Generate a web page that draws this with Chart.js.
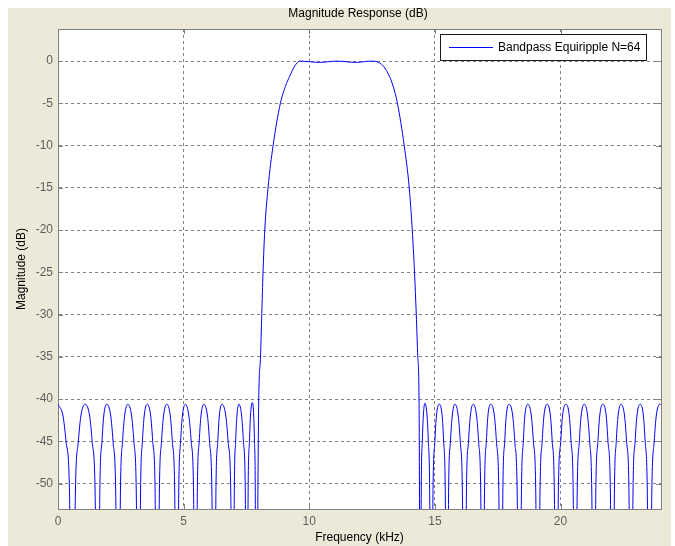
<!DOCTYPE html>
<html>
<head>
<meta charset="utf-8">
<script src="https://cdn.jsdelivr.net/npm/chart.js@4.4.0/dist/chart.umd.min.js"></script>
<style>
  html, body { margin: 0; padding: 0; background: #fff; }
  #wrap { width: 675px; height: 546px; }
</style>
</head>
<body>
<div id="wrap"><canvas id="chart" width="675" height="546"></canvas></div>
<script>
// values (kHz / dB)
var lowStopKHz = [0, 0.20, 0.32, 0.45, 0.58,
    0.70, 0.81, 0.91, 1.08, 1.26, 1.36, 1.47, 1.59,
    1.67, 1.75, 1.82, 1.94, 2.10, 2.19, 2.29, 2.40,
    2.49, 2.57, 2.65, 2.78, 2.93, 3.02, 3.11, 3.21,
    3.29, 3.36, 3.43, 3.55, 3.69, 3.77, 3.86, 3.95,
    4.04, 4.12, 4.20, 4.33, 4.47, 4.55, 4.64, 4.73,
    4.81, 4.88, 4.95, 5.07, 5.21, 5.30, 5.39, 5.48,
    5.55, 5.62, 5.69, 5.80, 5.95, 6.03, 6.12, 6.22,
    6.29, 6.36, 6.42, 6.53, 6.68, 6.77, 6.87, 6.97,
    7.02, 7.07, 7.12, 7.20, 7.31, 7.38, 7.45, 7.52,
    7.57, 7.62, 7.66, 7.74, 7.79, 7.82, 7.85, 7.88];
var lowStopDb = [-40.6, -42, -45, -50, -75,
    -50, -45, -42, -40.6, -42, -45, -50, -75,
    -50, -45, -42, -40.6, -42, -45, -50, -75,
    -50, -45, -42, -40.6, -42, -45, -50, -75,
    -50, -45, -42, -40.6, -42, -45, -50, -75,
    -50, -45, -42, -40.6, -42, -45, -50, -75,
    -50, -45, -42, -40.6, -42, -45, -50, -75,
    -50, -45, -42, -40.6, -42, -45, -50, -75,
    -50, -45, -42, -40.6, -42, -45, -50, -75,
    -50, -45, -42, -40.6, -42, -45, -50, -75,
    -50, -45, -42, -40.4, -42, -45, -50, -75];

var passKHz = [7.99, 8.06, 8.11, 8.16, 8.23, 8.36, 8.56, 8.85, 9.05, 9.22,
    9.42, 9.62, 9.80, 10.05, 10.40, 10.75, 11.05, 11.35, 11.60, 11.90,
    12.20, 12.45, 12.61, 12.80, 12.95, 13.07, 13.31, 13.51, 13.78, 13.98,
    14.10, 14.19, 14.26, 14.32, 14.37];
var passDb = [-40, -35, -30, -25, -20, -15, -10, -5, -3.0, -1.8,
    -0.6, 0, -0.02, -0.08, -0.15, -0.08, 0, -0.03, -0.12, -0.15,
    -0.06, 0, -0.02, -0.2, -0.6, -1.1, -2.7, -5, -10, -15,
    -20, -25, -30, -35, -40];

var highStopKHz = [14.42,
    14.46, 14.50, 14.54, 14.60, 14.69, 14.74, 14.79, 14.85,
    14.93, 15.00, 15.06, 15.18, 15.29, 15.35, 15.41, 15.48,
    15.55, 15.62, 15.69, 15.80, 15.93, 16.01, 16.09, 16.18,
    16.26, 16.34, 16.41, 16.53, 16.66, 16.74, 16.82, 16.91,
    16.98, 17.05, 17.11, 17.22, 17.37, 17.45, 17.54, 17.64,
    17.71, 17.78, 17.84, 17.95, 18.10, 18.18, 18.27, 18.37,
    18.45, 18.52, 18.58, 18.70, 18.84, 18.92, 19.01, 19.10,
    19.19, 19.27, 19.34, 19.47, 19.60, 19.67, 19.75, 19.83,
    19.92, 20.01, 20.08, 20.22, 20.35, 20.42, 20.50, 20.58,
    20.67, 20.75, 20.82, 20.95, 21.08, 21.16, 21.24, 21.33,
    21.41, 21.49, 21.56, 21.68, 21.82, 21.89, 21.98, 22.07,
    22.15, 22.22, 22.29, 22.41, 22.55, 22.63, 22.72, 22.81,
    22.89, 22.97, 23.04, 23.17, 23.30, 23.37, 23.45, 23.54,
    23.64, 23.73, 23.81, 23.96, 24.00];
var highStopDb = [-75,
    -50, -45, -42, -40.5, -42, -45, -50, -75,
    -50, -45, -42, -40.6, -42, -45, -50, -75,
    -50, -45, -42, -40.6, -42, -45, -50, -75,
    -50, -45, -42, -40.6, -42, -45, -50, -75,
    -50, -45, -42, -40.6, -42, -45, -50, -75,
    -50, -45, -42, -40.6, -42, -45, -50, -75,
    -50, -45, -42, -40.6, -42, -45, -50, -75,
    -50, -45, -42, -40.6, -42, -45, -50, -75,
    -50, -45, -42, -40.6, -42, -45, -50, -75,
    -50, -45, -42, -40.6, -42, -45, -50, -75,
    -50, -45, -42, -40.6, -42, -45, -50, -75,
    -50, -45, -42, -40.6, -42, -45, -50, -75,
    -50, -45, -42, -40.6, -42, -45, -50, -75,
    -50, -45, -42, -40.6, -40.65];

var xTicks = [0, 5, 10, 15, 20];
var yTicks = [-50, -45, -40, -35, -30, -25, -20, -15, -10, -5, 0];
var seriesName = 'Bandpass Equiripple N=64';

var FONT = '"Liberation Sans", Arial, sans-serif';
var LINE_COLOR = '#0000ff';

var points = [];
function addPoints(fs, ds) {
    for (var i = 0; i < fs.length; i++) {
        points.push({ x: fs[i], y: ds[i] });
    }
}
addPoints(lowStopKHz, lowStopDb);
addPoints(passKHz, passDb);
addPoints(highStopKHz, highStopDb);

// window background, axes frame, tick marks, title and legend box
var frame = {
    id: 'frame',
    beforeDraw: function (chart) {
        var ctx = chart.ctx, a = chart.chartArea;
        ctx.save();
        ctx.fillStyle = '#ffffff';
        ctx.fillRect(0, 0, chart.width, chart.height);
        ctx.fillStyle = '#ece9d8';
        ctx.fillRect(8, 8, 663, 538);
        ctx.fillStyle = '#ffffff';
        ctx.fillRect(a.left, a.top, a.right - a.left, a.bottom - a.top);
        ctx.restore();
    },
    beforeDatasetsDraw: function (chart) {
        var ctx = chart.ctx, a = chart.chartArea;
        var xs = chart.scales.x, ys = chart.scales.y;
        ctx.save();
        ctx.strokeStyle = '#808080';
        ctx.lineWidth = 1;
        ctx.strokeRect(Math.round(a.left) + 0.5, Math.round(a.top) + 0.5,
            Math.round(a.right - a.left), Math.round(a.bottom - a.top));
        ctx.beginPath();
        xTicks.forEach(function (v) {
            var px = Math.round(xs.getPixelForValue(v)) + 0.5;
            ctx.moveTo(px, a.bottom); ctx.lineTo(px, a.bottom - 5);
            ctx.moveTo(px, a.top); ctx.lineTo(px, a.top + 5);
        });
        yTicks.forEach(function (v) {
            var py = Math.round(ys.getPixelForValue(v)) + 0.5;
            ctx.moveTo(a.left, py); ctx.lineTo(a.left + 5, py);
            ctx.moveTo(a.right, py); ctx.lineTo(a.right - 5, py);
        });
        ctx.stroke();
        ctx.restore();
    },
    afterDraw: function (chart) {
        var ctx = chart.ctx;
        ctx.save();
        ctx.font = '12px ' + FONT;
        ctx.fillStyle = '#000000';
        ctx.textAlign = 'center';
        ctx.textBaseline = 'middle';
        ctx.fillText('Magnitude Response (dB)', 358, 14);

        // legend
        ctx.fillStyle = '#ffffff';
        ctx.fillRect(440, 34, 206, 26);
        ctx.strokeStyle = '#1a1a1a';
        ctx.lineWidth = 1;
        ctx.strokeRect(440.5, 34.5, 206, 26);
        ctx.strokeStyle = LINE_COLOR;
        ctx.beginPath();
        ctx.moveTo(449, 47.5);
        ctx.lineTo(493, 47.5);
        ctx.stroke();
        ctx.fillStyle = '#000000';
        ctx.textAlign = 'left';
        ctx.fillText(seriesName, 498, 47.5);
        ctx.restore();
    }
};

new Chart('chart', {
    type: 'line',
    data: {
        datasets: [{
            label: seriesName,
            data: points,
            borderColor: LINE_COLOR,
            borderWidth: 1,
            pointRadius: 0,
            fill: false,
            cubicInterpolationMode: 'monotone'
        }]
    },
    options: {
        responsive: false,
        animation: false,
        events: [],
        layout: { padding: { top: 29, right: 14, left: 0, bottom: 0 } },
        plugins: {
            legend: { display: false },
            tooltip: { enabled: false },
            title: { display: false }
        },
        scales: {
            x: {
                type: 'linear',
                min: 0,
                max: 24,
                afterBuildTicks: function (s) { s.ticks = xTicks.map(function (v) { return { value: v }; }); },
                afterFit: function (s) { s.height = 37; },
                grid: { color: '#808080', lineWidth: 1, drawTicks: false },
                border: { display: true, color: '#808080', dash: [3, 3] },
                ticks: { padding: 5, color: '#5f5f5f', font: { family: FONT, size: 12 } },
                title: {
                    display: true, text: 'Frequency (kHz)', color: '#000000',
                    font: { family: FONT, size: 12 }, padding: { top: 0, bottom: 1 }
                }
            },
            y: {
                type: 'linear',
                min: -53,
                max: 3.8,
                afterBuildTicks: function (s) { s.ticks = yTicks.map(function (v) { return { value: v }; }); },
                afterFit: function (s) { s.width = 58; },
                grid: { color: '#808080', lineWidth: 1, drawTicks: false },
                border: { display: true, color: '#808080', dash: [3, 3] },
                ticks: { padding: 5, color: '#5f5f5f', font: { family: FONT, size: 12 } },
                title: {
                    display: true, text: 'Magnitude (dB)', color: '#000000',
                    font: { family: FONT, size: 12 }, padding: { top: 14, bottom: 0 }
                }
            }
        }
    },
    plugins: [frame]
});
</script>
</body>
</html>
